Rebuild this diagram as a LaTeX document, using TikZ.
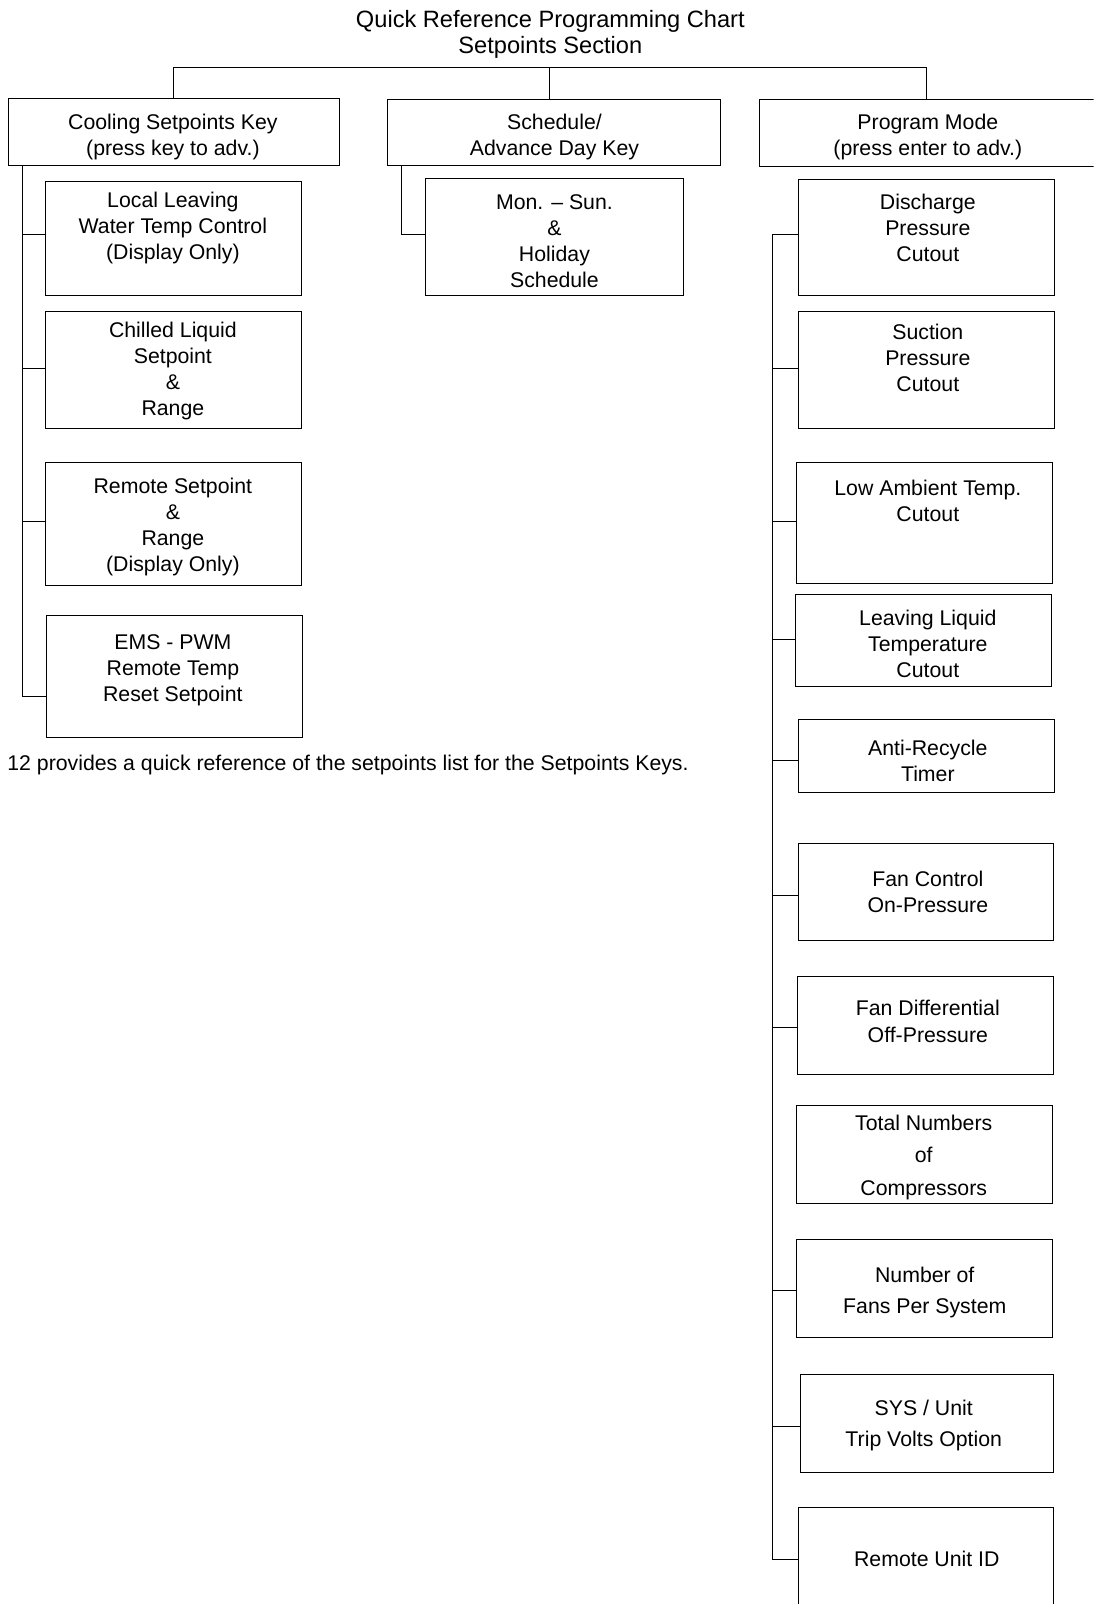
\documentclass[tikz,border=0pt]{standalone}
\usepackage{fontspec}
\setmainfont{Liberation Sans}
\usetikzlibrary{fit}
\tikzset{cell/.style={draw,line width=.9pt,inner sep=0pt},
  txt/.style={align=center,inner sep=0pt,yshift=-2.5pt,font=\fontsize{20.8}{25.5}\selectfont},
  wire/.style={line width=.9pt}}
\begin{document}
\begin{tikzpicture}[x=1pt,y=-1pt]
  \clip (0,0) rectangle (1069,1568);
  \node[txt,font=\fontsize{23.1}{26}\selectfont] (title) at (538,31) {Quick Reference Programming Chart\\Setpoints Section};
  % key boxes
  \node[cell,fit={(8,96) (332,162)}] (k1) {}; \node[txt] (k1t) at (169,131) {Cooling Setpoints Key\\(press key to adv.)};
  \node[cell,fit={(379,97) (704,162)}] (k2) {}; \node[txt] (k2t) at (542,131) {Schedule/\\Advance Day Key};
  \node[cell,fit={(742,97) (1070,163)}] (k3) {}; \node[txt] (k3t) at (907,131) {Program Mode\\(press enter to adv.)};
  \coordinate (bar) at (537,66);
  \draw[wire] (k1.north) |- (bar) -| (k3.north); \draw[wire] (bar) -- (bar |- k2.north);
  % cooling setpoints
  \node[cell,fit={(44,177) (295,289)}] (c1) {}; \node[txt] (c1t) at (169,220) {Local Leaving\\Water Temp Control\\(Display Only)};
  \node[cell,fit={(44,304) (295,419)}] (c2) {}; \node[txt] (c2t) at (169,360) {Chilled Liquid\\Setpoint\\\&\\Range};
  \node[cell,fit={(44,452) (295,572)}] (c3) {}; \node[txt] (c3t) at (169,513) {Remote Setpoint\\\&\\Range\\(Display Only)};
  \node[cell,fit={(45,602) (296,721)}] (c4) {}; \node[txt] (c4t) at (169,653) {EMS - PWM\\Remote Temp\\Reset Setpoint};
  \draw[wire] (k1.south -| 22,0) |- (c4.west |- 0,681);
  \foreach \n/\y in {c1/229,c2/360,c3/510} \draw[wire] (22,\y) -- (\n.west |- 0,\y);
  \node[txt,anchor=west] (note) at (7,745) {12 provides a quick reference of the setpoints list for the Setpoints Keys.};
  % schedule
  \node[cell,fit={(416,174) (668,289)}] (m1) {}; \node[txt] (m1t) at (542,233) {Mon. -- Sun.\\\&\\Holiday\\Schedule};
  \draw[wire] (k2.south -| 392,0) |- (m1.west |- 0,229);
  % program mode
  \node[cell,fit={(781,175) (1031,289)}] (r1) {}; \node[txt] (r1t) at (907,220) {Discharge\\Pressure\\Cutout};
  \node[cell,fit={(781,304) (1031,419)}] (r2) {}; \node[txt] (r2t) at (907,347) {Suction\\Pressure\\Cutout};
  \node[cell,fit={(779,452) (1029,570)}] (r3) {}; \node[txt] (r3t) at (907,487) {Low Ambient Temp.\\Cutout};
  \node[cell,fit={(778,581) (1028,671)}] (r4) {}; \node[txt] (r4t) at (907,627) {Leaving Liquid\\Temperature\\Cutout};
  \node[cell,fit={(781,703) (1031,775)}] (r5) {}; \node[txt] (r5t) at (907,741) {Anti-Recycle\\Timer};
  \node[cell,fit={(781,825) (1030,919)}] (r6) {}; \node[txt] (r6t) at (907,869) {Fan Control\\On-Pressure};
  \node[cell,fit={(780,955) (1030,1050)}] (r7) {}; \node[txt] (r7t) at (907,996) {Fan Differential\\Off-Pressure};
  \node[cell,fit={(779,1081) (1029,1176)}] (r8) {}; \node[txt,font=\fontsize{20.8}{31.5}\selectfont] (r8t) at (903,1129) {Total Numbers\\of\\Compressors};
  \node[cell,fit={(779,1212) (1029,1307)}] (r9) {}; \node[txt,font=\fontsize{20.8}{29.5}\selectfont] (r9t) at (904,1261) {Number of\\Fans Per System};
  \node[cell,fit={(782,1344) (1030,1439)}] (r10) {}; \node[txt,font=\fontsize{20.8}{30}\selectfont] (r10t) at (903,1391) {SYS / Unit\\Trip Volts Option};
  \node[cell,fit={(781,1474) (1030,1580)}] (r11) {}; \node[txt] (r11t) at (906,1521) {Remote Unit ID};
  \draw[wire] (r1.west |- 0,229) -| (755,1524) -- (r11.west |- 0,1524);
  \foreach \n/\y in {r2/360,r3/510,r4/625,r5/743,r6/875,r7/1004,r9/1261,r10/1394} \draw[wire] (755,\y) -- (\n.west |- 0,\y);
\end{tikzpicture}
\end{document}
